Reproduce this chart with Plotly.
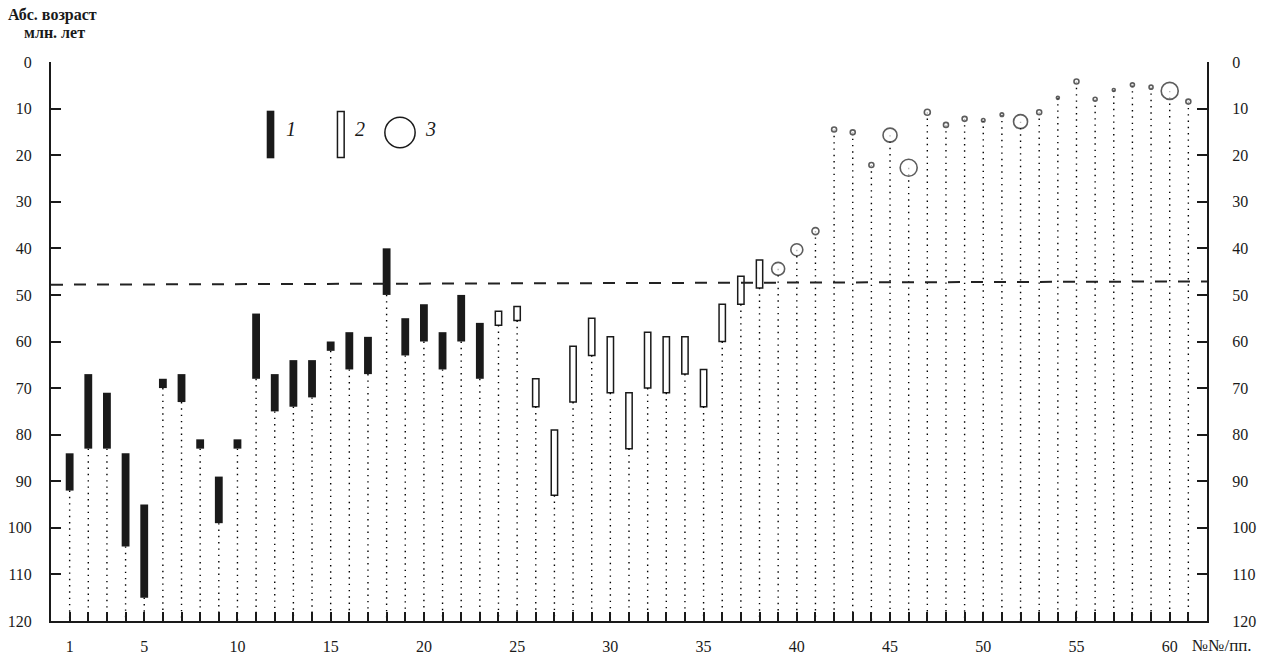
import plotly.graph_objects as go

# ---------------- data ----------------
items_solid = list(range(1, 24))
solid_top = [84, 67, 71, 84, 95, 68, 67, 81, 89, 81, 54, 67, 64, 64, 60, 58, 59, 40, 55, 52, 58, 50, 56]
solid_bottom = [92, 83, 83, 104, 115, 70, 73, 83, 99, 83, 68, 75, 74, 72, 62, 66, 67, 50, 63, 60, 66, 60, 68]

items_open = list(range(24, 39))
open_top = [53.5, 52.5, 68, 79, 61, 55, 59, 71, 58, 59, 59, 66, 52, 46, 42.5]
open_bottom = [56.5, 55.5, 74, 93, 73, 63, 71, 83, 70, 71, 67, 74, 60, 52, 48.5]

items_circle = list(range(39, 62))
circle_age = [44.4, 40.3, 36.3, 14.5, 15.1, 22.1, 15.7, 22.7, 10.8, 13.5, 12.2, 12.5,
              11.3, 12.8, 10.8, 7.7, 4.2, 8.0, 6.0, 4.9, 5.4, 6.2, 8.5]

boundary_x = [0, 62]
boundary_age = [47.8, 47.1]

x_ticks = list(range(1, 62))
x_labels = [str(i) if (i == 1 or i % 5 == 0) else "" for i in x_ticks]
y_ticks = list(range(0, 121, 10))
y_max = 120

# ---------------- styles ----------------
circle_diam_px = [13, 12, 7, 5, 5, 5, 14, 17, 6, 5, 5, 3.5, 3.5, 14, 5, 3, 5, 4, 3, 4, 4, 17, 5]
FONT = "Liberation Serif"
INK = "#1a1a1a"

fig = go.Figure()

# dotted drop lines from each mark down to the axis
dx, dy = [], []
for x, b in zip(items_solid, solid_bottom):
    dx += [x, x, None]; dy += [b, y_max, None]
for x, b in zip(items_open, open_bottom):
    dx += [x, x, None]; dy += [b, y_max, None]
for x, b in zip(items_circle, circle_age):
    dx += [x, x, None]; dy += [b, y_max, None]
fig.add_trace(go.Scatter(x=dx, y=dy, mode="lines",
                         line=dict(color="black", width=1.4, dash="1.4px,4.9px"),
                         hoverinfo="skip"))

# boundary dashed line
fig.add_trace(go.Scatter(x=boundary_x, y=boundary_age, mode="lines",
                         line=dict(color="#222", width=2, dash="12px,11px"),
                         hoverinfo="skip"))

# solid bars (type 1)
fig.add_trace(go.Bar(x=items_solid, base=solid_top,
                     y=[b - t for t, b in zip(solid_top, solid_bottom)],
                     width=0.42, marker=dict(color=INK, line=dict(width=0))))

# open bars (type 2)
fig.add_trace(go.Bar(x=items_open, base=open_top,
                     y=[b - t for t, b in zip(open_top, open_bottom)],
                     width=0.34, marker=dict(color="white", line=dict(color=INK, width=1.5))))

# circles (type 3)
fig.add_trace(go.Scatter(x=items_circle, y=circle_age, mode="markers",
                         marker=dict(size=circle_diam_px, color="white",
                                     line=dict(color=INK, width=1.6))))

# dummy trace for right axis
fig.add_trace(go.Scatter(x=[None], y=[None], yaxis="y2", showlegend=False))

axis_common = dict(range=[y_max, 0], tickvals=y_ticks, ticks="inside", ticklen=10,
                   tickwidth=2, tickcolor=INK, showline=True, linewidth=2,
                   linecolor=INK, showgrid=False, zeroline=False, automargin=False,
                   tickfont=dict(family=FONT, size=16, color=INK))

fig.update_layout(
    width=1266, height=655,
    margin=dict(l=51, r=59, t=62, b=34, autoexpand=False),
    paper_bgcolor="white", plot_bgcolor="white",
    showlegend=False, barmode="overlay",
    xaxis=dict(range=[0, 62], tickvals=x_ticks, ticktext=x_labels, ticks="inside",
               ticklen=9, tickwidth=2, tickcolor=INK, showline=True, linewidth=2,
               linecolor=INK, showgrid=False, zeroline=False, automargin=False,
               ticklabelstandoff=10,
               tickfont=dict(family=FONT, size=16, color=INK)),
    yaxis=dict(side="left", ticklabelstandoff=14, **axis_common),
    yaxis2=dict(side="right", overlaying="y", ticklabelstandoff=20, **axis_common),
)

# axis titles
fig.add_annotation(xref="paper", yref="paper", x=0.0017, y=1.0841,
                   text="<b>Абс. возраст</b>", showarrow=False,
                   xanchor="center", yanchor="middle",
                   font=dict(family=FONT, size=16, color=INK))
fig.add_annotation(xref="paper", yref="paper", x=0.0026, y=1.0519,
                   text="<b>млн. лет</b>", showarrow=False,
                   xanchor="center", yanchor="middle",
                   font=dict(family=FONT, size=16, color=INK))
fig.add_annotation(xref="paper", yref="paper", x=1.0130, y=-0.043,
                   text="№№/пп.", showarrow=False, xanchor="center", yanchor="middle",
                   font=dict(family=FONT, size=17, color=INK))

# legend glyphs
fig.add_shape(type="rect", xref="paper", yref="paper", x0=0.1866, x1=0.1932,
              y0=0.8277, y1=0.9129, fillcolor=INK, line=dict(width=0))
fig.add_shape(type="rect", xref="paper", yref="paper", x0=0.2478, x1=0.2536,
              y0=0.8290, y1=0.9116, fillcolor="white", line=dict(color=INK, width=1.5))
fig.add_shape(type="circle", xref="paper", yref="paper", x0=0.2888, x1=0.3150,
              y0=0.8466, y1=0.9012, fillcolor="white", line=dict(color=INK, width=1.5))
for xp, t in [(0.2076, "1"), (0.2673, "2"), (0.3279, "3")]:
    fig.add_annotation(xref="paper", yref="paper", x=xp, y=0.880, text="<i>" + t + "</i>",
                       showarrow=False, xanchor="center", yanchor="middle",
                       font=dict(family=FONT, size=20, color=INK))

fig.write_html("out.html", config={"displayModeBar": False},
               post_script="document.body.style.margin='0';")
